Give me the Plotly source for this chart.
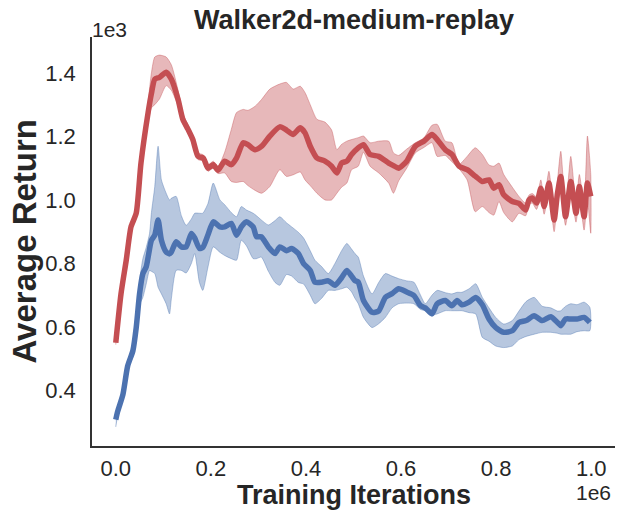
import plotly.graph_objects as go

# ---------------- data (x in units of 1e6 iterations, returns raw) ----------------
red_x = [0.000, 0.011, 0.022, 0.032, 0.043, 0.053, 0.068, 0.075, 0.082, 0.092, 0.106, 0.117,
         0.131, 0.141, 0.152, 0.162, 0.173, 0.184, 0.194, 0.205, 0.215, 0.229, 0.243, 0.254,
         0.268, 0.278, 0.293, 0.307, 0.324, 0.345, 0.359, 0.373, 0.388, 0.398, 0.409, 0.423,
         0.440, 0.454, 0.465, 0.475, 0.486, 0.496, 0.510, 0.521, 0.535, 0.553, 0.574, 0.584,
         0.595, 0.612, 0.630, 0.648, 0.665, 0.676, 0.693, 0.707, 0.722, 0.739, 0.756, 0.771,
         0.785, 0.795, 0.806, 0.816, 0.834, 0.848, 0.862, 0.869, 0.876, 0.885, 0.894, 0.901,
         0.911, 0.922, 0.929, 0.936, 0.946, 0.957, 0.968, 0.975, 0.985, 0.992, 0.999]
red_mean = [550, 704, 810, 915, 958, 1116, 1275, 1335, 1380, 1386, 1402, 1380,
            1317, 1254, 1222, 1190, 1137, 1132, 1100, 1111, 1093, 1122, 1111, 1132,
            1180, 1174, 1158, 1169, 1201, 1230, 1220, 1206, 1227, 1211, 1169, 1132,
            1122, 1106, 1085, 1116, 1122, 1143, 1164, 1174, 1143, 1137, 1116, 1108,
            1100, 1122, 1169, 1185, 1206, 1190, 1158, 1143, 1106, 1095, 1075, 1058,
            1063, 1037, 1048, 1016, 995, 989, 968, 1000, 1006, 990, 1037, 979,
            1053, 937, 1021, 1074, 947, 1058, 958, 1042, 947, 1053, 1011]
red_lo = [544, 697, 802, 905, 948, 1098, 1245, 1290, 1300, 1318, 1360, 1345,
          1295, 1240, 1210, 1178, 1127, 1122, 1090, 1100, 1083, 1085, 1058, 1055,
          1058, 1045, 1030, 1021, 1042, 1095, 1074, 1079, 1088, 1063, 1045, 1021,
          1000, 1000, 1021, 1040, 1053, 1095, 1106, 1150, 1106, 1085, 1053, 1021,
          1060, 1100, 1148, 1165, 1180, 1137, 1140, 1120, 1098, 1063, 963, 979,
          960, 952, 995, 960, 931, 958, 950, 985, 990, 970, 1010, 955,
          1020, 900, 990, 1030, 920, 1020, 930, 1010, 905, 1000, 895]
red_hi = [556, 711, 818, 925, 970, 1135, 1310, 1400, 1450, 1456, 1450, 1425,
          1345, 1272, 1236, 1202, 1148, 1142, 1110, 1122, 1105, 1150, 1222, 1275,
          1285, 1282, 1295, 1317, 1349, 1365, 1370, 1349, 1358, 1338, 1300, 1254,
          1245, 1220, 1158, 1175, 1185, 1190, 1196, 1201, 1180, 1185, 1185, 1148,
          1140, 1160, 1180, 1195, 1235, 1238, 1185, 1180, 1112, 1137, 1164, 1143,
          1110, 1106, 1116, 1080, 1040, 1011, 990, 1015, 1020, 1010, 1063, 1000,
          1090, 965, 1060, 1153, 975, 1137, 990, 1080, 985, 1201, 1080]

blue_x = [0.000, 0.004, 0.015, 0.025, 0.036, 0.043, 0.050, 0.057, 0.064, 0.071, 0.075, 0.082,
          0.089, 0.096, 0.106, 0.113, 0.117, 0.127, 0.138, 0.148, 0.159, 0.166, 0.176, 0.183,
          0.194, 0.205, 0.219, 0.229, 0.243, 0.254, 0.264, 0.275, 0.289, 0.296, 0.306, 0.321,
          0.335, 0.345, 0.359, 0.370, 0.384, 0.395, 0.409, 0.419, 0.433, 0.447, 0.461, 0.475,
          0.486, 0.496, 0.503, 0.510, 0.521, 0.539, 0.553, 0.567, 0.581, 0.595, 0.612, 0.627,
          0.641, 0.651, 0.665, 0.676, 0.693, 0.707, 0.718, 0.728, 0.743, 0.757, 0.771, 0.785,
          0.799, 0.816, 0.834, 0.848, 0.863, 0.880, 0.897, 0.915, 0.929, 0.936, 0.946, 0.957,
          0.970, 0.985, 0.997]
blue_mean = [308, 334, 387, 477, 525, 598, 704, 768, 789, 845, 873, 889,
             937, 873, 836, 830, 836, 868, 852, 852, 894, 880, 847, 850,
             890, 931, 915, 915, 926, 889, 915, 931, 915, 884, 884, 852,
             831, 852, 840, 847, 831, 799, 778, 741, 741, 745, 731, 755,
             778, 760, 746, 741, 683, 646, 650, 693, 705, 720, 710, 699,
             667, 660, 641, 673, 683, 667, 683, 670, 678, 693, 670, 625,
             598, 583, 588, 614, 620, 635, 620, 632, 614, 604, 625, 625,
             625, 630, 614]
blue_lo = [285, 320, 374, 462, 508, 575, 670, 693, 735, 778, 775, 768,
           725, 704, 673, 641, 690, 778, 778, 770, 800, 831, 740, 715,
           789, 852, 835, 825, 815, 810, 873, 855, 815, 815, 820, 775,
           740, 731, 765, 760, 740, 735, 700, 673, 690, 715, 715, 720,
           725, 710, 690, 673, 630, 598, 610, 630, 660, 673, 675, 673,
           655, 651, 638, 641, 651, 651, 651, 651, 645, 641, 567, 555,
           540, 535, 540, 560, 570, 577, 583, 583, 580, 577, 577, 577,
           585, 588, 588]
blue_hi = [322, 346, 400, 492, 542, 620, 745, 815, 850, 894, 960, 1042,
           1169, 1063, 1021, 1000, 1005, 1011, 950, 920, 940, 958, 958, 958,
           989, 1053, 1000, 985, 960, 947, 979, 968, 958, 950, 937, 921,
           935, 947, 928, 915, 898, 880, 840, 810, 790, 768, 800, 840,
           863, 845, 831, 820, 760, 704, 740, 768, 760, 752, 745, 741,
           700, 673, 700, 715, 708, 704, 709, 709, 720, 736, 693, 660,
           630, 609, 620, 650, 680, 693, 665, 660, 650, 651, 665, 673,
           670, 678, 662]

x_ticks = [0.0, 0.2, 0.4, 0.6, 0.8, 1.0]
x_tick_labels = ["0.0", "0.2", "0.4", "0.6", "0.8", "1.0"]
y_ticks = [400, 600, 800, 1000, 1200, 1400]
y_tick_labels = ["0.4", "0.6", "0.8", "1.0", "1.2", "1.4"]

X_SCALE = 1e6
RED = "#C44E52"
BLUE = "#4C72B0"
TXT = "#262626"
FONT = "Liberation Sans, Arial, sans-serif"

def band(xs, lo, hi, rgba):
    xx = [v * X_SCALE for v in xs]
    return go.Scatter(x=xx + xx[::-1], y=hi + lo[::-1], fill="toself", mode="lines",
                      fillcolor=rgba, line=dict(color=rgba, width=1, shape="spline", smoothing=0.6),
                      hoverinfo="skip", showlegend=False)

def mean_line(xs, ys, color):
    return go.Scatter(x=[v * X_SCALE for v in xs], y=ys, mode="lines",
                      line=dict(color=color, width=5.5, shape="spline", smoothing=0.6),
                      showlegend=False)

fig = go.Figure()
fig.add_trace(band(blue_x, blue_lo, blue_hi, "rgba(76,114,176,0.4)"))
fig.add_trace(mean_line(blue_x, blue_mean, BLUE))
fig.add_trace(band(red_x, red_lo, red_hi, "rgba(196,78,82,0.4)"))
fig.add_trace(mean_line(red_x, red_mean, RED))

fig.update_layout(
    width=623, height=522,
    margin=dict(l=92, r=8, t=37, b=76, autoexpand=False),
    paper_bgcolor="white", plot_bgcolor="white",
    font=dict(family=FONT, color=TXT, size=22),
    showlegend=False,
)
fig.update_xaxes(range=[-0.05 * X_SCALE, 1.05 * X_SCALE], automargin=False,
                 tickvals=[v * X_SCALE for v in x_ticks], ticktext=x_tick_labels,
                 showgrid=False, zeroline=False, showline=True, linecolor="#333333",
                 linewidth=1.6, ticks="", ticklabelstandoff=2,
                 tickfont=dict(size=22, color=TXT, family=FONT))
fig.update_yaxes(range=[225, 1513], automargin=False, tickvals=y_ticks, ticktext=y_tick_labels,
                 showgrid=False, zeroline=False, showline=True, linecolor="#333333",
                 linewidth=1.6, ticks="", ticklabelstandoff=10,
                 tickfont=dict(size=22, color=TXT, family=FONT))

ann = [
    dict(text="<b>Walker2d-medium-replay</b>", x=0.5, y=1, xref="paper", yref="paper",
         xanchor="center", yanchor="middle", yshift=17, showarrow=False,
         font=dict(size=27, color=TXT, family=FONT)),
    dict(text="<b>Average Return</b>", x=0, y=0.5, xref="paper", yref="paper",
         xanchor="center", yanchor="middle", xshift=-68, textangle=-90, showarrow=False,
         font=dict(size=33, color=TXT, family=FONT)),
    dict(text="<b>Training Iterations</b>", x=0.5, y=0, xref="paper", yref="paper",
         xanchor="center", yanchor="middle", yshift=-49, showarrow=False,
         font=dict(size=27, color=TXT, family=FONT)),
    dict(text="1e3", x=0, y=1, xref="paper", yref="paper", xanchor="left",
         yanchor="middle", xshift=-2, yshift=8, showarrow=False,
         font=dict(size=21, color=TXT, family=FONT)),
    dict(text="1e6", x=1, y=0, xref="paper", yref="paper", xanchor="right",
         yanchor="middle", xshift=-2, yshift=-46, showarrow=False,
         font=dict(size=21, color=TXT, family=FONT)),
]
fig.update_layout(annotations=ann)

fig.write_html("out.html", config={"displayModeBar": False},
               post_script="document.body.style.margin='0';")
